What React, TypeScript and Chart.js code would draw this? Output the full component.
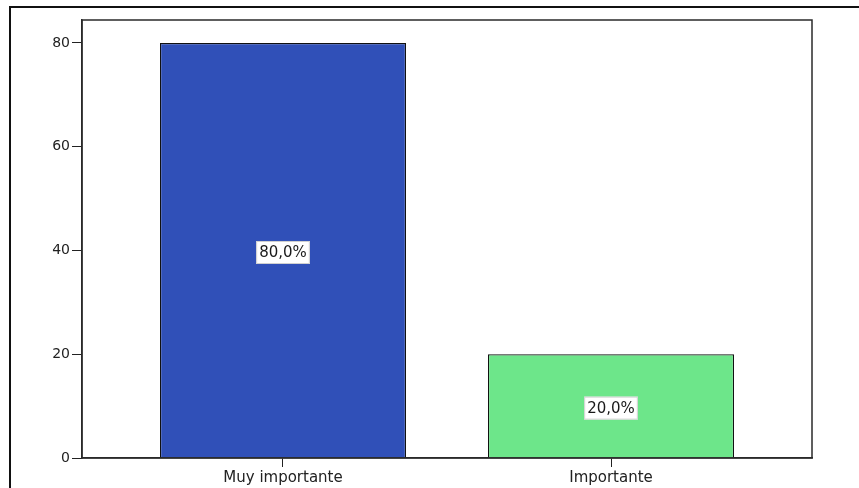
import React, { useEffect, useRef } from "react";
import { Chart, registerables } from "chart.js";

Chart.register(...registerables);

const categories = ["Muy importante", "Importante"];
const values = [80, 20];
const valueLabels = ["80,0%", "20,0%"];
const barColors = ["#3050B8", "#6DE68A"];
const yTicks = [0, 20, 40, 60, 80];

const framePlugin = {
  id: "frame",
  beforeDraw(chart: any) {
    const ctx = chart.ctx;
    ctx.save();
    ctx.fillStyle = "#ffffff";
    ctx.fillRect(0, 0, chart.width, chart.height);
    ctx.strokeStyle = "#111111";
    ctx.lineWidth = 2;
    ctx.beginPath();
    ctx.moveTo(10, chart.height);
    ctx.lineTo(10, 7);
    ctx.lineTo(chart.width, 7);
    ctx.stroke();
    ctx.restore();
  },
  afterDraw(chart: any) {
    const { ctx, chartArea } = chart;
    ctx.save();
    ctx.strokeStyle = "#2a2a2a";
    ctx.lineWidth = 1.5;
    ctx.strokeRect(chartArea.left, chartArea.top, chartArea.right - chartArea.left, chartArea.bottom - chartArea.top);
    // value labels
    const meta = chart.getDatasetMeta(0);
    const yScale = chart.scales.y;
    ctx.font = "15px 'DejaVu Sans'";
    ctx.textAlign = "center";
    ctx.textBaseline = "middle";
    meta.data.forEach((bar: any, i: number) => {
      const x = bar.x;
      const y = yScale.getPixelForValue(values[i] / 2) + 2;
      const txt = valueLabels[i];
      const w = ctx.measureText(txt).width + 6;
      const h = 23;
      ctx.fillStyle = "#ffffff";
      ctx.fillRect(x - w / 2, y - h / 2, w, h);
      ctx.strokeStyle = "#d0d0d0";
      ctx.lineWidth = 1;
      ctx.strokeRect(x - w / 2 + 0.5, y - h / 2 + 0.5, w - 1, h - 1);
      ctx.fillStyle = "#1a1a1a";
      ctx.fillText(txt, x, y + 1);
    });
    ctx.restore();
  },
};

export default function App() {
  const ref = useRef<HTMLCanvasElement>(null);
  useEffect(() => {
    if (!ref.current) return;
    const chart = new Chart(ref.current, {
      type: "bar",
      data: {
        datasets: [
          {
            data: values.map((v, i) => ({ x: i, y: v })),
            backgroundColor: barColors,
            borderColor: "#111111",
            borderWidth: 1.2,
            barPercentage: 0.75,
            categoryPercentage: 1,
          },
        ],
      },
      options: {
        responsive: false,
        animation: false,
        layout: { padding: { left: 0, top: 20, right: 47, bottom: 0 } },
        plugins: { legend: { display: false }, tooltip: { enabled: false } },
        scales: {
          x: {
            type: "linear",
            offset: false,
            min: -0.6128,
            max: 1.6128,
            afterBuildTicks: (s: any) => {
              s.ticks = categories.map((_, i) => ({ value: i }));
            },
            afterFit: (s: any) => {
              s.height = 30;
            },
            ticks: {
              callback: (v: any) => categories[v as number] ?? "",
              font: { family: "'DejaVu Sans'", size: 15 },
              color: "#222222",
              padding: 2,
              maxRotation: 0,
              autoSkip: false,
            },
            grid: { offset: false, drawOnChartArea: false, drawTicks: true, tickLength: 9, color: "#222222" },
            border: { display: true, color: "#2a2a2a", width: 1.5 },
          },
          y: {
            type: "linear",
            min: 0,
            max: 84.43,
            afterBuildTicks: (s: any) => {
              s.ticks = yTicks.map((v) => ({ value: v }));
            },
            afterFit: (s: any) => {
              s.width = 82;
            },
            ticks: {
              font: { family: "'DejaVu Sans'", size: 14 },
              color: "#222222",
              padding: 2,
            },
            grid: { drawOnChartArea: false, drawTicks: true, tickLength: 10, color: "#222222" },
            border: { display: true, color: "#2a2a2a", width: 1.5 },
          },
        },
      },
      plugins: [framePlugin],
    } as any);
    return () => chart.destroy();
  }, []);
  return (
    <div style={{ position: "fixed", left: 0, top: 0, width: 859, height: 488, background: "#fff" }}>
      <canvas ref={ref} width={859} height={488} style={{ display: "block" }} />
    </div>
  );
}
